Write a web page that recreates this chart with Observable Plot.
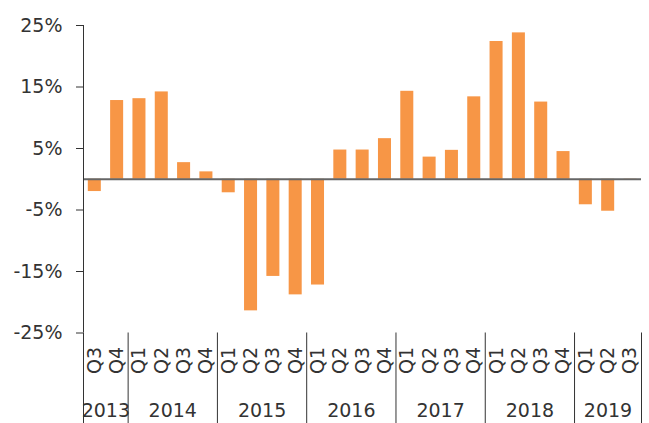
<!DOCTYPE html>
<html>
<head>
<meta charset="utf-8">
<script src="https://cdn.jsdelivr.net/npm/d3@7"></script>
<script src="https://cdn.jsdelivr.net/npm/@observablehq/plot@0.6"></script>
<style>
  html, body { margin: 0; padding: 0; background: #fff; }
</style>
</head>
<body>
<div id="chart"></div>
<script>
const quarters = ["Q3","Q4","Q1","Q2","Q3","Q4","Q1","Q2","Q3","Q4","Q1","Q2","Q3","Q4","Q1","Q2","Q3","Q4","Q1","Q2","Q3","Q4","Q1","Q2","Q3"];
const years = ["2013","2013","2014","2014","2014","2014","2015","2015","2015","2015","2016","2016","2016","2016","2017","2017","2017","2017","2018","2018","2018","2018","2019","2019","2019"];
const values = [-2.0, 12.8, 13.1, 14.2, 2.7, 1.2, -2.2, -21.4, -15.8, -18.8, -17.2, 4.75, 4.75, 6.6, 14.3, 3.6, 4.7, 13.4, 22.4, 23.8, 12.55, 4.5, -4.15, -5.2, -0.2];
const yTicks = [-25, -15, -5, 5, 15, 25];

const rows = values.map((v, i) => ({i, v, q: quarters[i], year: years[i]}));
const groups = d3.groups(rows, d => d.year).map(([year, rs]) => ({
  year,
  x1: rs[0].i,
  x2: rs[rs.length - 1].i + 1,
  mid: (rs[0].i + rs[rs.length - 1].i + 1) / 2
}));
const boundaries = [...groups.map(g => g.x1), rows.length];

const W = 649, H = 423, MB = 90.5;
const font = "DejaVu Sans";
const textColor = "#333";

const plot = Plot.plot({
  width: W,
  height: H,
  marginLeft: 83,
  marginRight: 8,
  marginTop: 25,
  marginBottom: MB,
  style: {fontFamily: font, fontSize: "19px", color: textColor, background: "#fff"},
  x: {domain: [0, rows.length], axis: null},
  y: {domain: [yTicks[0], yTicks[yTicks.length - 1]], ticks: yTicks, tickFormat: d => d + "%", tickSize: 7, tickPadding: 14, label: null},
  marks: [
    Plot.rectY(rows, {x1: "i", x2: d => d.i + 1, y: "v", fill: "#F79646", insetLeft: 4.8, insetRight: 4.5}),
    Plot.ruleY([0], {stroke: "#666", strokeWidth: 2}),
    Plot.ruleX([0], {y1: yTicks[0], y2: yTicks[yTicks.length - 1], stroke: "#333"}),
    Plot.ruleX(boundaries, {y1: yTicks[0], y2: yTicks[0], insetBottom: -MB, stroke: "#333"}),
    Plot.text(rows, {x: d => d.i + 0.5, y: yTicks[0], text: "q", rotate: -90, textAnchor: "end", dy: 14, fontSize: 19, fill: textColor}),
    Plot.text(groups, {x: "mid", y: yTicks[0], text: "year", dy: 77.5, fontSize: 19, fill: textColor})
  ]
});
document.getElementById("chart").appendChild(plot);
</script>
</body>
</html>
